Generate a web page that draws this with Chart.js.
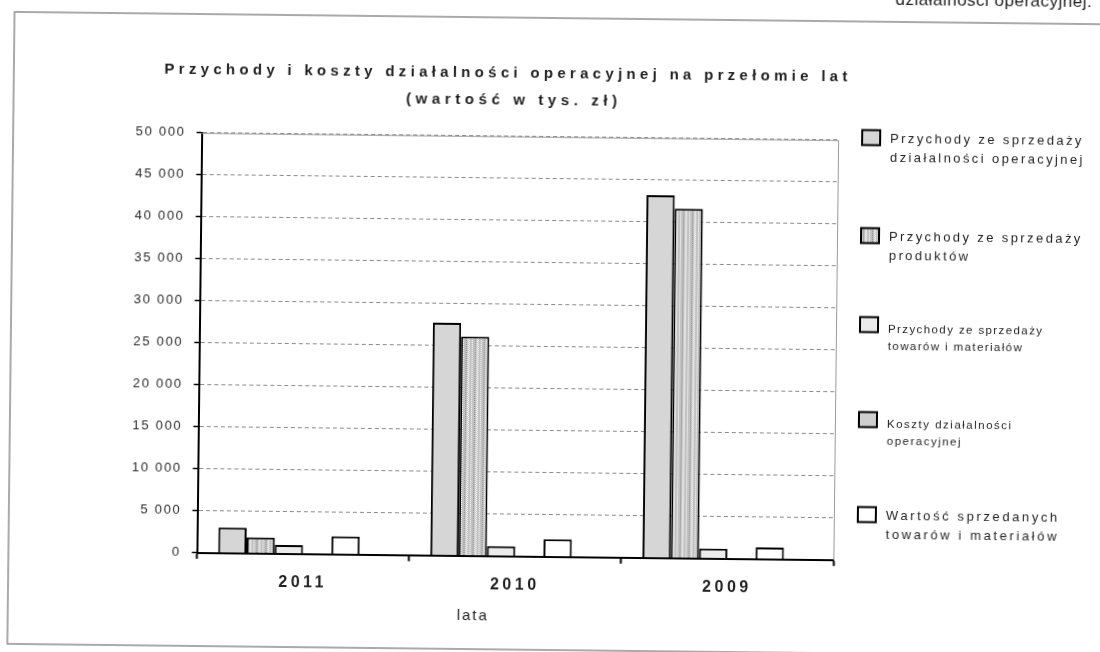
<!DOCTYPE html>
<html lang="pl">
<head>
<meta charset="utf-8">
<title>Przychody i koszty działalności operacyjnej na przełomie lat</title>
<script src="https://cdn.jsdelivr.net/npm/chart.js@4.4.1/dist/chart.umd.min.js"></script>
<style>
  html, body { margin: 0; padding: 0; background: #fff; width: 1100px; height: 652px; overflow: hidden; }
  /* the printed sheet sits slightly askew, so the whole drawing is turned a little */
  #sheet { position: absolute; left: -20px; top: -24px; width: 1140px; height: 700px;
           transform: rotate(0.65deg); transform-origin: 570px 350px; background: #fff; }
  canvas { display: block; }
</style>
</head>
<body>
<div id="sheet"><canvas id="chart" width="1140" height="700"></canvas></div>
<script>
// ---- data ----
const years = ['2011', '2010', '2009'];
const revenueOperating = [3050, 27700, 43200];
const revenueProducts  = [1900, 26100, 41600];
const revenueGoods     = [1050, 1200, 1200];
const costsOperating   = [null, null, null];
const goodsSoldValue   = [2150, 2100, 1400];
const unusedSeries     = [null, null, null];

const seriesLabels = [
  ['Przychody ze sprzedaży', 'działalności operacyjnej'],
  ['Przychody ze sprzedaży', 'produktów'],
  ['Przychody ze sprzedaży', 'towarów i materiałów'],
  ['Koszty działalności', 'operacyjnej'],
  ['Wartość sprzedanych', 'towarów i materiałów']
];
const yMax = 50000;
const yStep = 5000;

const chartTitle = 'Przychody i koszty działalności operacyjnej na przełomie lat';
const chartSubtitle = '(wartość w tys. zł)';
const xAxisTitle = 'lata';
const headerFragment = 'działalności operacyjnej.';

// ---- styling helpers ----
const FONT = "'Liberation Sans', Arial, sans-serif";
const INK = '#1f1f1f';

function formatThousands(v) {
  return String(v).replace(/\B(?=(\d{3})+(?!\d))/g, ' ');
}

function stripedFill() {
  const c = document.createElement('canvas');
  c.width = 9; c.height = 4;
  const g = c.getContext('2d');
  g.fillStyle = '#c2c2c2'; g.fillRect(0, 0, 9, 4);
  g.fillStyle = '#ffffff';
  g.fillRect(2, 0, 1, 1); g.fillRect(3, 1, 1, 1); g.fillRect(2, 2, 1, 1); g.fillRect(3, 3, 1, 1);
  g.fillRect(6, 1, 1, 1); g.fillRect(6, 3, 1, 1);
  g.fillStyle = '#8c8c8c';
  g.fillRect(0, 1, 1, 1); g.fillRect(0, 3, 1, 1);
  return g.createPattern(c, 'repeat');
}

function spacedText(ctx, text, x, y, font, spacing, align, baseline) {
  ctx.save();
  ctx.font = font;
  ctx.letterSpacing = spacing + 'px';
  ctx.textAlign = 'left';
  ctx.textBaseline = baseline || 'middle';
  ctx.fillStyle = INK;
  const w = ctx.measureText(text).width - spacing;
  let sx = x;
  if (align === 'center') sx = x - w / 2;
  else if (align === 'right') sx = x - w;
  ctx.fillText(text, sx, y);
  ctx.restore();
}

// tick labels are spaced out like the rest of the lettering
const tickSpacingPlugin = {
  id: 'tickSpacing',
  beforeDraw(chart) { chart.ctx.letterSpacing = '1.7px'; },
  afterDatasetsDraw(chart) { chart.ctx.letterSpacing = '3.5px'; },
  afterDraw(chart) { chart.ctx.letterSpacing = '0px'; }
};

// legend rows: first-line centre, font size, letter spacing, line gap
const legendRows = [
  { y: 159.5, size: 13,   spacing: 2.4, gap: 19 },
  { y: 257.5, size: 13,   spacing: 2.4, gap: 19 },
  { y: 349.5, size: 11.5, spacing: 1.4, gap: 17 },
  { y: 444.5, size: 11.5, spacing: 1.5, gap: 17 },
  { y: 536.5, size: 13,   spacing: 2.6, gap: 19 }
];

const decorPlugin = {
  id: 'decor',
  beforeDatasetsDraw(chart) {
    const { ctx, chartArea: a } = chart;
    ctx.save();
    ctx.strokeStyle = '#9a9a9a';
    ctx.lineWidth = 1;
    ctx.beginPath();
    ctx.moveTo(a.left, a.top + 0.5);
    ctx.lineTo(a.right + 0.5, a.top + 0.5);
    ctx.lineTo(a.right + 0.5, a.bottom);
    ctx.stroke();
    ctx.restore();
  },
  afterDraw(chart) {
    const ctx = chart.ctx;

    // page frame
    ctx.save();
    ctx.strokeStyle = '#8f8f8f';
    ctx.lineWidth = 1.5;
    ctx.beginPath();
    ctx.moveTo(1140, 42); ctx.lineTo(31, 42); ctx.lineTo(31, 674); ctx.lineTo(1140, 674);
    ctx.stroke();
    ctx.restore();

    // running text line above the frame
    spacedText(ctx, headerFragment, 1108, 24.5, '17px ' + FONT, 0.5, 'right', 'alphabetic');

    // titles
    spacedText(ctx, chartTitle, 523, 97.5, 'bold 15px ' + FONT, 4.3, 'center');
    spacedText(ctx, chartSubtitle, 529, 124.5, 'bold 15px ' + FONT, 4.6, 'center');

    // axis title
    spacedText(ctx, xAxisTitle, 495, 641, '15px ' + FONT, 2, 'center');

    // legend
    const boxX = 880, textX = 908;
    chart.data.datasets.forEach((ds, i) => {
      const row = legendRows[i];
      if (!row || !ds.label) return;
      const small = row.size < 12;
      const boxTop = row.y - (small ? 12 : 9);
      ctx.save();
      ctx.fillStyle = ds.backgroundColor;
      ctx.fillRect(boxX, boxTop, 18, 15);
      ctx.strokeStyle = '#000';
      ctx.lineWidth = 2;
      ctx.strokeRect(boxX, boxTop, 18, 15);
      ctx.restore();
      ds.label.forEach((line, k) => {
        spacedText(ctx, line, textX, row.y + k * row.gap, row.size + 'px ' + FONT, row.spacing, 'left');
      });
    });
  }
};

new Chart(document.getElementById('chart'), {
  type: 'bar',
  data: {
    labels: years,
    datasets: [
      { label: seriesLabels[0], data: revenueOperating, backgroundColor: '#d6d6d6' },
      { label: seriesLabels[1], data: revenueProducts,  backgroundColor: stripedFill() },
      { label: seriesLabels[2], data: revenueGoods,     backgroundColor: '#ebebeb' },
      { label: seriesLabels[3], data: costsOperating,   backgroundColor: '#cfcfcf' },
      { label: seriesLabels[4], data: goodsSoldValue,   backgroundColor: '#ffffff' },
      { label: '', data: unusedSeries, backgroundColor: '#ffffff' }
    ]
  },
  options: {
    responsive: false,
    animation: false,
    events: [],
    layout: { padding: { left: 119.5, right: 284, top: 160.8, bottom: 69.2 } },
    datasets: {
      bar: { borderColor: '#000', borderWidth: 2, categoryPercentage: 0.8, barPercentage: 1 }
    },
    plugins: {
      legend: { display: false },
      title: { display: false },
      tooltip: { enabled: false }
    },
    scales: {
      x: {
        afterFit: s => { s.height = 50; },
        grid: { display: true, drawOnChartArea: false, drawTicks: true, tickLength: 6,
                tickColor: '#000', tickWidth: 2, offset: true },
        border: { color: '#000', width: 2 },
        ticks: { font: { family: FONT, size: 16, weight: 'bold' }, color: INK, padding: 13, z: 1, maxRotation: 0 }
      },
      y: {
        min: 0,
        max: yMax,
        afterFit: s => { s.width = 100; },
        grid: {
          color: c => (c.tick && c.tick.value === 0) ? 'rgba(0,0,0,0)' : '#8a8a8a',
          lineWidth: 1, drawTicks: true, tickLength: 5, tickColor: '#000', tickWidth: 1.5
        },
        border: { color: '#000', width: 2, dash: [4, 3] },
        ticks: { stepSize: yStep, font: { family: FONT, size: 13 }, color: '#2a2a2a', padding: 11,
                 callback: v => formatThousands(v) }
      }
    }
  },
  plugins: [tickSpacingPlugin, decorPlugin]
});
</script>
</body>
</html>
